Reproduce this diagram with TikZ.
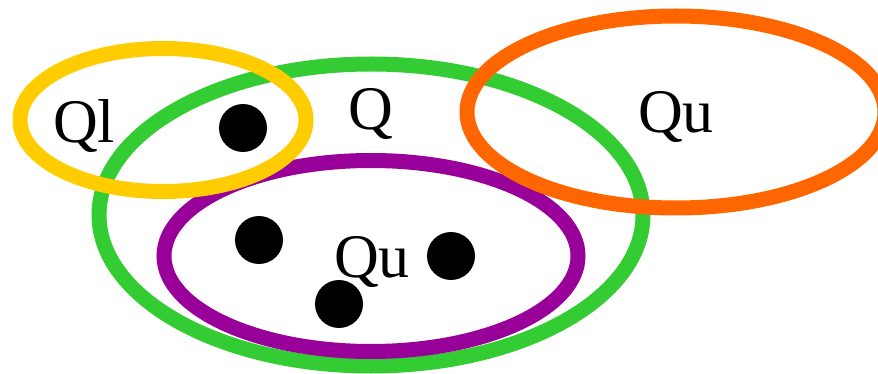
\documentclass[tikz,border=0pt]{standalone}
\usepackage{fontspec}
\setmainfont{Liberation Serif}
\usetikzlibrary{shapes.geometric}
\definecolor{cyel}{HTML}{FFCC00}
\definecolor{cgrn}{HTML}{33CC33}
\definecolor{cpur}{HTML}{990099}
\definecolor{corg}{HTML}{FF6600}
\begin{document}
\begin{tikzpicture}[x=1pt,y=1pt,
  setring/.style={draw, ellipse, line width=15pt, inner sep=0pt, outer sep=0pt},
  elem/.style={circle, fill=black, inner sep=0pt, minimum size=48pt},
  lab/.style={anchor=base, inner sep=0pt, font=\fontsize{62}{62}\selectfont}]
\useasboundingbox (0,0) rectangle (878,-374);
% sets
\node[setring, draw=cgrn, minimum width=544pt, minimum height=302pt] (Qset) at (371,-215) {};
\node[setring, draw=cpur, minimum width=414pt, minimum height=191pt] (Quin) at (371,-256) {};
\node[setring, draw=cyel, minimum width=286pt, minimum height=143pt] (Qlset) at (163,-120) {};
\node[setring, draw=corg, minimum width=418pt, minimum height=192pt] (Quout) at (676,-112) {};
% elements
\node[elem] (e1) at (243,-128) {};
\node[elem] (e2) at (259,-240) {};
\node[elem] (e3) at (339,-304) {};
\node[elem] (e4) at (451,-256) {};
% labels
\node[lab] (tQl) at (84,-143) {Ql};
\node[lab] (tQ) at (371,-130) {Q};
\node[lab] (tQu1) at (372,-277) {Qu};
\node[lab] (tQu2) at (676,-133) {Qu};
\end{tikzpicture}
\end{document}
